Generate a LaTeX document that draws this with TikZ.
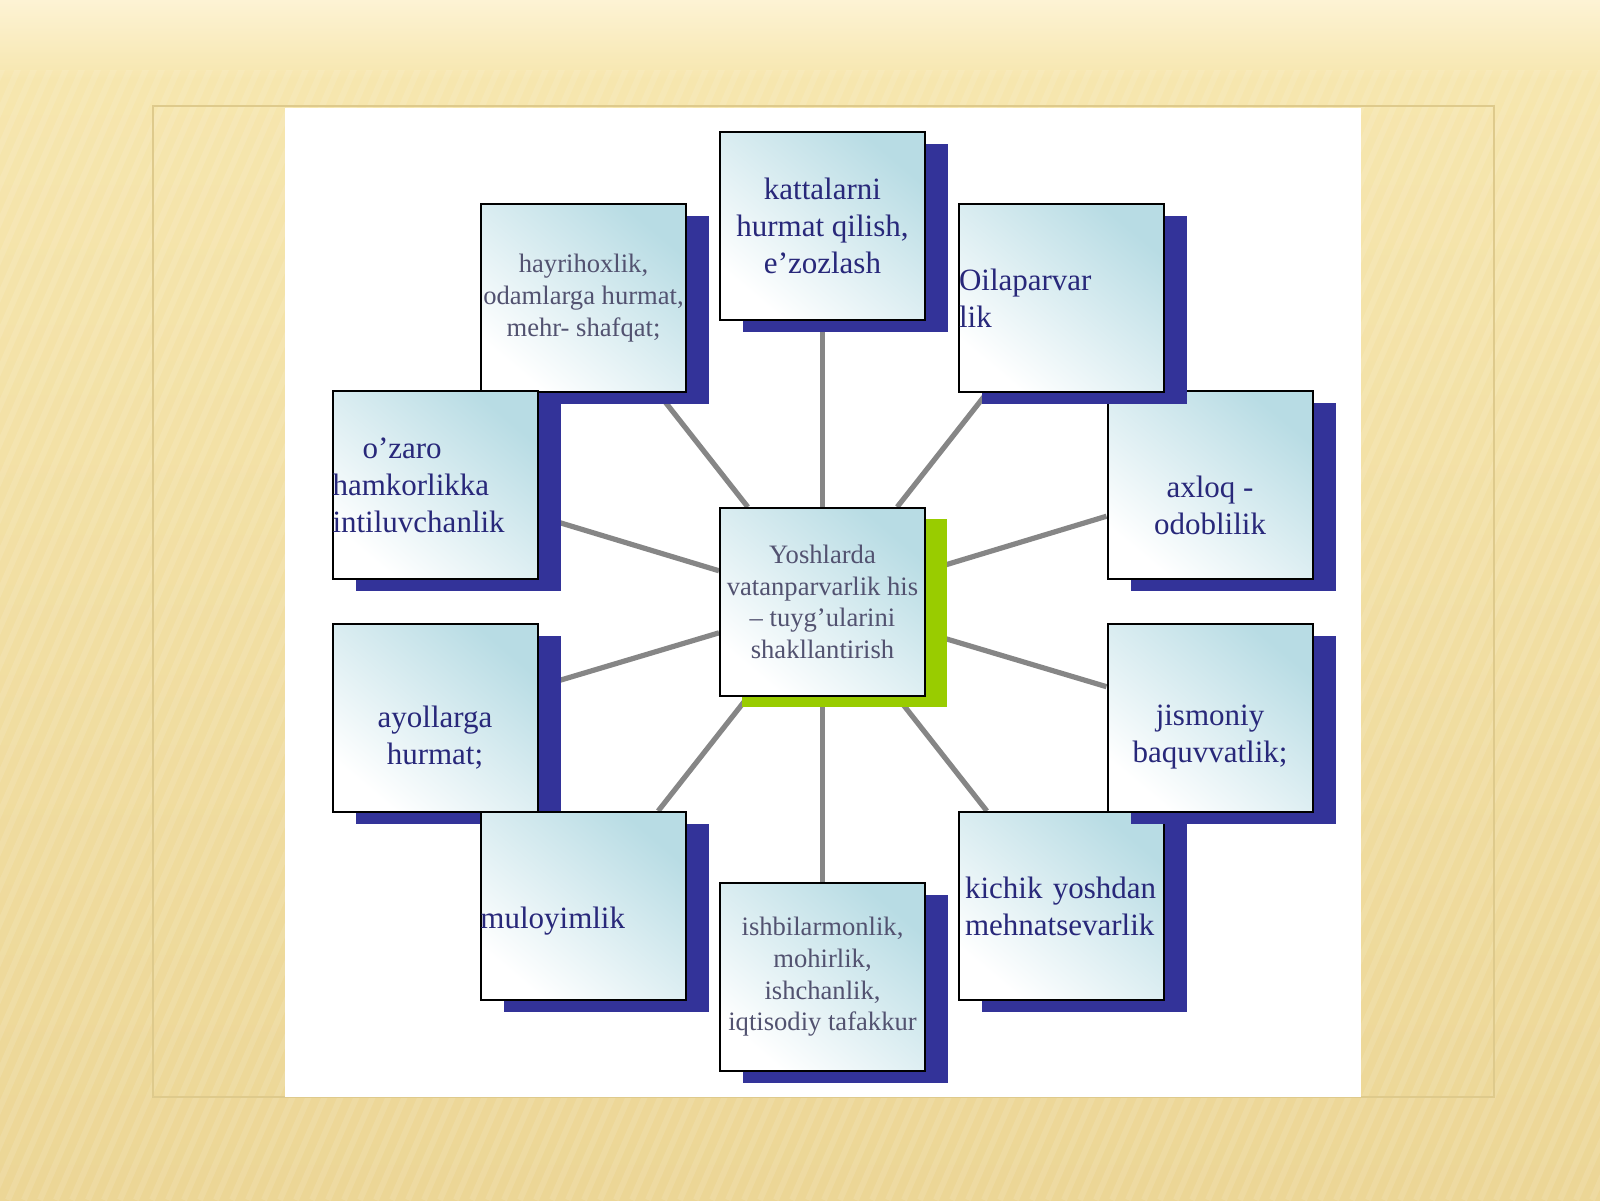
\documentclass[tikz,border=0pt]{standalone}
\usepackage{fontspec}
\setmainfont{Liberation Serif}
\usetikzlibrary{backgrounds,shadows}

\definecolor{navyshade}{RGB}{51,51,153}
\definecolor{limeshade}{RGB}{153,204,0}
\definecolor{boxcyan}{RGB}{184,220,228}
\definecolor{inkblue}{RGB}{40,40,122}
\definecolor{inkgray}{RGB}{82,82,112}
\definecolor{spokegray}{RGB}{134,134,134}
\definecolor{creamtop}{RGB}{253,243,212}
\definecolor{tanmid}{RGB}{246,230,174}
\definecolor{tandark}{RGB}{236,214,150}
\definecolor{frameline}{RGB}{222,202,140}

\tikzset{
  cardbase/.style={draw=black, line width=1pt, minimum width=102.5pt, minimum height=94pt,
    inner sep=0pt, top color=boxcyan, bottom color=white, shading angle=-40},
  card/.style={cardbase, general shadow={shadow xshift=11.5pt, shadow yshift=-6pt, fill=navyshade}},
  hubcard/.style={cardbase, general shadow={shadow xshift=11pt, shadow yshift=-5.5pt, fill=limeshade}},
  bigtxt/.style={font=\fontsize{15.5}{18.5}\selectfont, text=inkblue, align=center},
  smalltxt/.style={font=\fontsize{13.3}{15.8}\selectfont, text=inkgray, align=center},
  spoke/.style={draw=spokegray, line width=2.6pt}
}

\begin{document}
\begin{tikzpicture}[x=0.5pt,y=-0.5pt]
	  \useasboundingbox (0,0) rectangle (1600,1200);
	  \begin{scope}[on background layer]
		  \shade[top color=creamtop, bottom color=tanmid] (0,0) rectangle (1600,80);
		  \shade[top color=tanmid, bottom color=tandark] (0,80) rectangle (1600,1200);
		  \begin{scope}
			  \clip (0,70) rectangle (1600,1200);
			  \foreach \s in {-600,-584,...,1600}
				  \draw[white, opacity=0.11, line width=3pt] (\s,1200) -- (\s+520,0);
		  \end{scope}
		  \draw[frameline, line width=0.7pt] (153,106) rectangle (1494,1097);
		  \fill[white] (285,108) rectangle (1361,1097);
	  \end{scope}

	  % boxes, in stacking order
	  \node[card, bigtxt] (katta) at (822.5,226) {kattalarni\\hurmat qilish,\\e’zozlash};
	  \node[hubcard, smalltxt] (hub) at (822.5,602) {Yoshlarda\\vatanparvarlik his\\– tuyg’ularini\\shakllantirish};
	  \node[card, smalltxt] (ishbil) at (822.5,977) {ishbilarmonlik,\\mohirlik,\\ishchanlik,\\iqtisodiy tafakkur};
	  \node[card, smalltxt] (hayri) at (583.5,298) {hayrihoxlik,\\odamlarga hurmat,\\mehr- shafqat;};
	  \node[card, bigtxt, text width=102.5pt, align=left] (ozaro) at (435,485) {\hspace*{15pt}o’zaro\\hamkorlikka\\intiluvchanlik};
	  \node[card] (ayol) at (435,717.5) {};
	  \node[bigtxt, inner sep=0pt] (ayol-t) at ([yshift=-10pt]ayol.center) {ayollarga\\hurmat;};
	  \node[card] (muloy) at (583.5,906) {};
	  \node[bigtxt, inner sep=0pt, anchor=west] (muloy-t) at ([yshift=-7.5pt]muloy.west) {muloyimlik};
	  \node[card] (axloq) at (1210,485) {};
	  \node[bigtxt, inner sep=0pt] (axloq-t) at ([yshift=-10pt]axloq.center) {axloq -\\odoblilik};
	  \node[card, bigtxt, text width=102.5pt, align=left] (oila) at (1061.5,298) {Oilaparvar\\lik};
	  \node[card, bigtxt, text width=96.5pt, inner xsep=3pt, align=left] (kichik) at (1061.5,906) {kichik yoshdan\\mehnatsevarlik};
	  \node[card] (jism) at (1210,717.5) {};
	  \node[bigtxt, inner sep=0pt] (jism-t) at ([yshift=-10pt]jism.center) {jismoniy\\baquvvatlik;};

	  \begin{scope}[on background layer]
		  \foreach \n in {katta,ishbil,hayri,oila,ozaro,axloq,ayol,jism,muloy,kichik}
			  \draw[spoke] (hub) -- (\n);
	  \end{scope}
\end{tikzpicture}
\end{document}
